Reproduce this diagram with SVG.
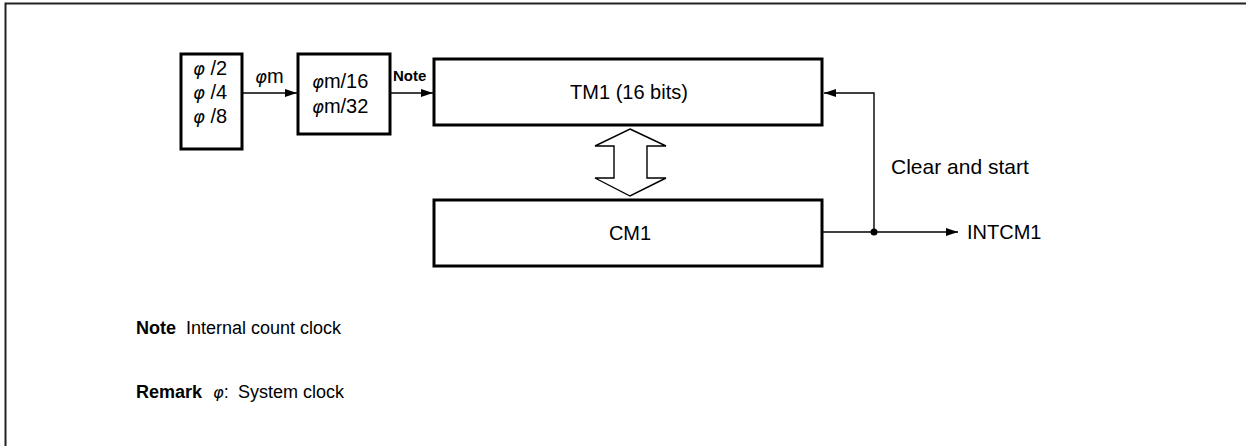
<svg xmlns="http://www.w3.org/2000/svg" width="1246" height="446" viewBox="0 0 1246 446">
<defs>
<style>
.frame{fill:none;stroke:#222;stroke-width:2}
.box{fill:#fff;stroke:#000;stroke-width:3}
.ln{fill:none;stroke:#000;stroke-width:1.4}
.t{font-family:"Liberation Sans","DejaVu Sans",Arial,sans-serif;font-size:20px;fill:#000}
.s{font-size:18px}
.ph{font-family:"DejaVu Sans",sans-serif;font-style:italic;font-size:0.9em}
.b{font-weight:bold}
.m{text-anchor:middle}
</style>
<marker id="ah" viewBox="0 0 12 8" refX="12" refY="4" markerWidth="12" markerHeight="8" markerUnits="userSpaceOnUse" orient="auto">
<path d="M0,0 L12,4 L0,8 Z" fill="#000"/>
</marker>
</defs>
<rect width="1246" height="446" fill="#fff"/>
<path class="frame" d="M5.5,446 V3.5 H1246"/>

<g id="prescaler">
<rect class="box" x="181" y="54" width="61" height="95"/>
<text class="t" x="193" y="75"><tspan class="ph">φ</tspan> /2</text>
<text class="t" x="193" y="99"><tspan class="ph">φ</tspan> /4</text>
<text class="t" x="193" y="123"><tspan class="ph">φ</tspan> /8</text>
</g>

<g id="selector">
<rect class="box" x="298" y="54" width="92" height="80"/>
<text class="t" x="312" y="88"><tspan class="ph">φ</tspan>m/16</text>
<text class="t" x="312" y="113"><tspan class="ph">φ</tspan>m/32</text>
</g>

<g id="tm1">
<rect class="box" x="434" y="59" width="388" height="66"/>
<text class="t m" x="629" y="99">TM1 (16 bits)</text>
</g>

<g id="cm1">
<rect class="box" x="434" y="200" width="388" height="66"/>
<text class="t m" x="630" y="240">CM1</text>
</g>

<g id="connectors">
<line class="ln" x1="243" y1="93" x2="297" y2="93" marker-end="url(#ah)"/>
<line class="ln" x1="391" y1="93" x2="433" y2="93" marker-end="url(#ah)"/>
<polyline class="ln" points="874,232 874,93 824,93" marker-end="url(#ah)"/>
<line class="ln" x1="823" y1="232" x2="958" y2="232" marker-end="url(#ah)"/>
<circle cx="874" cy="232" r="3.5" fill="#000"/>
<polygon class="ln" points="630,129 666,146 647,146 647,178 666,178 630,196 595,178 614,178 614,146 595,146" style="fill:#fff"/>
</g>

<g id="labels">
<text class="t" x="255" y="83"><tspan class="ph">φ</tspan>m</text>
<text class="t b" x="393" y="81" style="font-size:15px">Note</text>
<text class="t" x="891" y="174" style="font-size:21px">Clear and start</text>
<text class="t" x="967" y="239">INTCM1</text>
</g>

<g id="notes">
<text class="t s b" x="136" y="334">Note</text>
<text class="t s" x="186" y="334">Internal count clock</text>
<text class="t s b" x="136" y="398">Remark</text>
<text class="t s" x="213" y="398"><tspan class="ph">φ</tspan>:</text>
<text class="t s" x="238" y="398">System clock</text>
</g>
</svg>
